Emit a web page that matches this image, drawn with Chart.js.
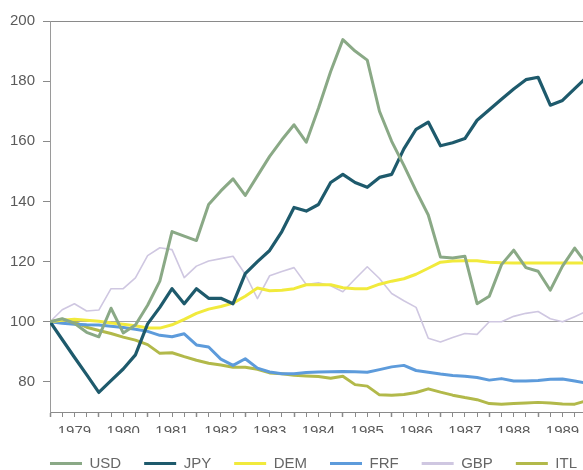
<!DOCTYPE html>
<html>
<head>
<meta charset="utf-8">
<script src="https://cdn.jsdelivr.net/npm/chart.js@4.4.0/dist/chart.umd.min.js"></script>
<style>
  html, body { margin: 0; padding: 0; background: #fff; overflow: hidden; }
  #wrap { width: 583px; height: 470px; overflow: hidden; }
</style>
</head>
<body>
<div id="wrap"><canvas id="chart" width="627" height="470"></canvas></div>
<script>
// Axis labels
var years = [1979, 1980, 1981, 1982, 1983, 1984, 1985, 1986, 1987, 1988, 1989];
var yTicks = [80, 100, 120, 140, 160, 180, 200];

// quarterly positions, 1979 Q1 .. 1990 Q1
var quarters = [];
years.forEach(function (y) {
  for (var q = 0; q < 4; q++) quarters.push(y + q / 4);
});
quarters.push(1990);

// Index values (1979 Q1 = 100)
var usd = [100, 101, 99.5, 96.5, 95, 104.5, 96.3, 98.9, 105.5, 113.5, 130, 128.5, 127, 139, 143.5, 147.5,
  142, 148.5, 155, 160.5, 165.5, 159.7, 171, 183.2, 193.8, 190, 187, 170, 160, 152, 143.5, 135.5,
  121.5, 121.2, 121.8, 106, 108.5, 119, 123.8, 118, 116.8, 110.5, 118.5, 124.5, 119];
var jpy = [100, 94.1, 88.2, 82.4, 76.5, 80.4, 84.3, 89, 99.3, 104.8, 111, 106, 111, 107.8, 107.8, 106,
  116, 120, 123.7, 130, 138, 136.8, 139, 146.3, 149, 146.3, 144.7, 148, 149, 157.5, 164, 166.4,
  158.5, 159.5, 160.9, 167, 170.5, 174, 177.4, 180.5, 181.3, 172, 173.6, 177.5, 181.4];
var dem = [100, 100.5, 100.8, 100.5, 100.2, 99.6, 99.2, 98.7, 97.9, 97.9, 99, 100.8, 102.8, 104.2, 105.1, 106.2,
  108.5, 111.2, 110.3, 110.5, 111, 112.3, 112.3, 112.3, 111.3, 111, 111, 112.5, 113.5, 114.3, 115.8, 117.8,
  119.8, 120.2, 120.3, 120.3, 119.8, 119.6, 119.5, 119.5, 119.5, 119.5, 119.5, 119.5, 119.5];
var frf = [100, 99.5, 99.2, 99, 98.9, 98.5, 98.1, 97.5, 96.8, 95.5, 95, 96, 92.3, 91.6, 87.6, 85.5,
  87.7, 84.6, 83.3, 82.7, 82.7, 83.1, 83.3, 83.4, 83.5, 83.4, 83.2, 84.1, 85, 85.5, 83.8, 83.2,
  82.6, 82.1, 81.9, 81.5, 80.6, 81.1, 80.3, 80.3, 80.5, 80.9, 81, 80.3, 79.6];
var gbp = [100, 104, 106, 103.6, 103.9, 111, 111, 114.6, 122, 124.6, 124, 114.7, 118.5, 120.2, 121, 121.8,
  115.8, 107.7, 115.3, 116.7, 118, 112.4, 113, 112, 110, 114.2, 118.3, 114.4, 109.4, 107, 104.8, 94.5,
  93.3, 94.8, 96.1, 95.8, 100, 100, 101.8, 102.8, 103.4, 101, 100, 101.7, 103.5];
var itl = [100, 100.8, 99.9, 98.2, 97.1, 96.1, 94.9, 93.9, 92.4, 89.5, 89.7, 88.4, 87.2, 86.2, 85.6, 84.9,
  84.9, 84.2, 83, 82.7, 82.2, 82, 81.8, 81.2, 81.9, 79.1, 78.6, 75.7, 75.6, 75.8, 76.5, 77.7,
  76.6, 75.6, 74.8, 74.1, 72.8, 72.6, 72.8, 73, 73.2, 73, 72.7, 72.6, 73.8];

var names = ["USD", "JPY", "DEM", "FRF", "GBP", "ITL"];
var series = [usd, jpy, dem, frf, gbp, itl];
var colors = ["#8aa986", "#1e5a6c", "#f1ea3c", "#5d9bdb", "#cfc7e1", "#b2b94a"];
var widths = [3, 3.2, 3, 3, 1.6, 3];

Chart.defaults.font.family = '"Liberation Sans", Arial, sans-serif';

var datasets = names.map(function (name, i) {
  return {
    label: name,
    data: series[i].map(function (v, j) { return { x: quarters[j], y: v }; }),
    borderColor: colors[i],
    backgroundColor: colors[i],
    borderWidth: widths[i],
    pointRadius: 0,
    tension: 0,
    borderJoinStyle: "round"
  };
});

new Chart(document.getElementById("chart"), {
  type: "line",
  data: { datasets: datasets },
  options: {
    responsive: false,
    animation: false,
    layout: { padding: { left: 0, right: 0, top: 21, bottom: -11 } },
    scales: {
      x: {
        type: "linear",
        min: 1979,
        max: 1989.92,
        afterBuildTicks: function (scale) {
          scale.ticks = quarters.slice(0, 44).map(function (v) { return { value: v }; });
        },
        afterFit: function (scale) { scale.height = 21; },
        grid: {
          drawOnChartArea: false,
          tickLength: 5,
          tickColor: "#8a8a8a",
          tickWidth: function (ctx) { return ctx.tick && ctx.tick.value % 1 === 0 ? 1.5 : 1; }
        },
        border: { color: "#8a8a8a", width: 1 },
        ticks: {
          autoSkip: false,
          maxRotation: 0,
          minRotation: 0,
          padding: 6,
          color: "#5a5a5a",
          font: { size: 15 },
          callback: function (v) { return v % 1 === 0.5 ? Math.floor(v) : ""; }
        }
      },
      y: {
        min: 70,
        max: 200,
        afterBuildTicks: function (scale) {
          scale.ticks = yTicks.map(function (v) { return { value: v }; });
        },
        afterFit: function (scale) { scale.width = 50; },
        grid: {
          color: function (ctx) {
            if (!ctx.tick) return "rgba(0,0,0,0)";
            if (ctx.tick.value === 100) return "#a3a3a3";
            if (ctx.tick.value === 200) return "#8a8a8a";
            return "rgba(0,0,0,0)";
          },
          lineWidth: 1,
          tickLength: 7,
          tickColor: "#8a8a8a"
        },
        border: { color: "#9a9a9a" },
        ticks: { padding: 8, color: "#5a5a5a", font: { size: 15 } }
      },
      // empty strip on the right, only takes space so the plot ends at the window edge
      yPad: {
        position: "right",
        min: 0,
        max: 1,
        afterFit: function (scale) { scale.width = 44; },
        grid: { display: false },
        border: { display: false },
        ticks: { display: false }
      }
    },
    plugins: {
      legend: {
        position: "bottom",
        align: "center",
        labels: {
          boxWidth: 32,
          boxHeight: 3,
          padding: 23,
          color: "#666",
          font: { size: 15 },
          generateLabels: function (chart) {
            return Chart.defaults.plugins.legend.labels.generateLabels(chart).map(function (item) {
              item.lineWidth = 0;
              return item;
            });
          }
        }
      },
      tooltip: { enabled: false }
    }
  }
});
</script>
</body>
</html>
